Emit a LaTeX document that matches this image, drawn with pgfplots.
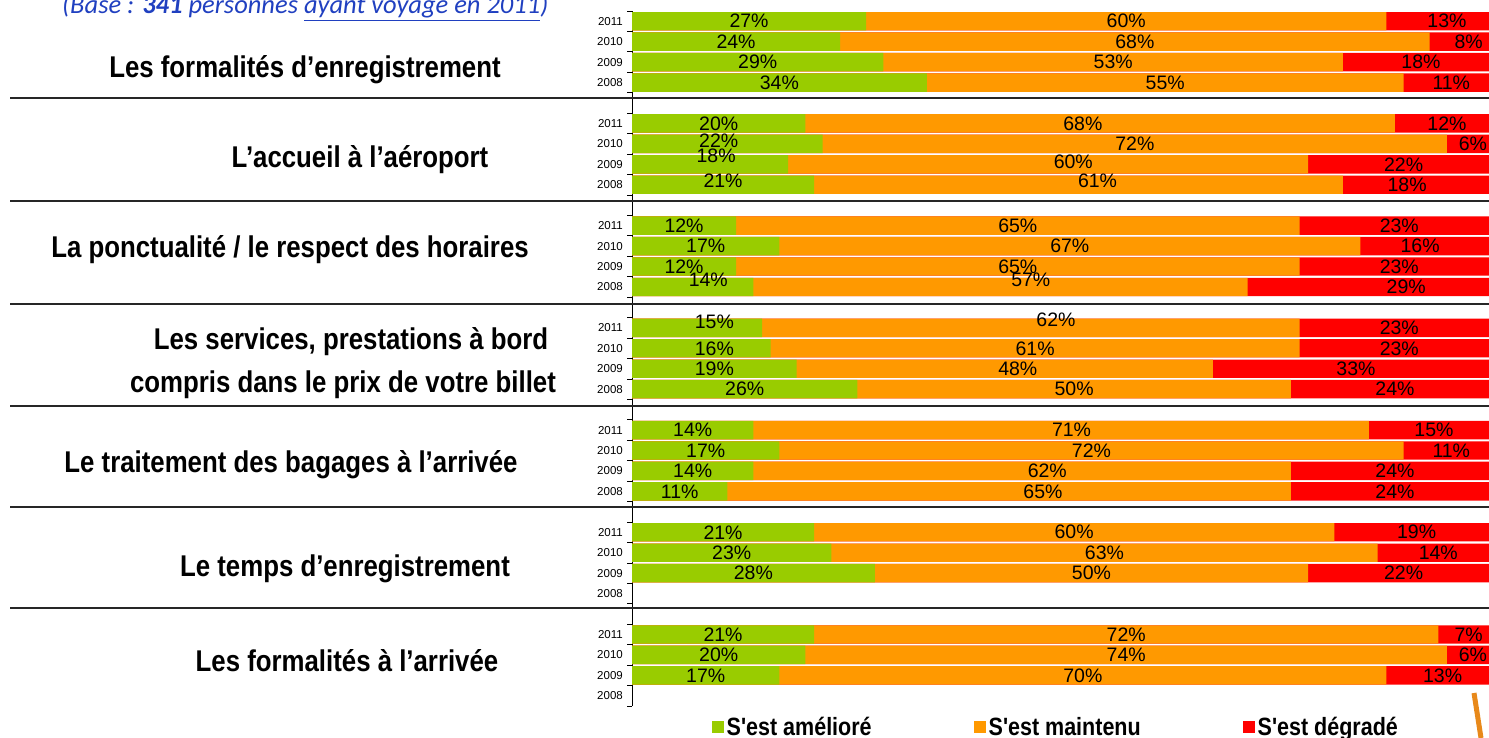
\documentclass[border=0pt]{standalone}
\usepackage{pgfplots}
\pgfplotsset{compat=1.18}
\usepackage{pgfplotstable}
\usepackage{fontspec}
\setmainfont{Liberation Sans}
\newfontfamily\nb{Liberation Sans}[FakeStretch=0.86]
\newfontfamily\calib{Carlito}

\definecolor{cgreen}{HTML}{99CC00}
\definecolor{corange}{HTML}{FF9900}
\definecolor{cred}{HTML}{FF0000}
\definecolor{cblue}{HTML}{2040C0}
\definecolor{cdeco}{HTML}{E8891A}

% y = slot centre (top = 0), g/o/r = shares, dx/dy = label displacement
\pgfplotstableread{
y    g  o  r  gdx  gdy   odx  ody   rdx  rdy
0.5  27 60 13 0    0     0    0     0.5  0
1.5  24 68 8  0    0     0    0     0.5  0
2.5  29 53 18 0    0     0    0     0    0
3.5  34 55 11 0    0     0    0     0    0
5.5  20 68 12 0    0     -2   0     0    0
6.5  22 72 6  -1   -0.15 0    0     0    0
7.5  18 60 22 0.7  -0.4  2.9  -0.1  0    0
8.5  21 61 18 0    -0.2  2.2  -0.2  -1.6 0
10.5 12 65 23 0    0     0    0     0    0
11.5 17 67 16 0    0     0    0     -1.1 0
12.5 12 65 23 0    0     0    0     0    0
13.5 14 57 29 1.8  -0.35 3.5  -0.35 3.8  0
15.5 15 62 23 2    -0.3  2.9  -0.4  0    0
16.5 16 61 23 1.5  0     0    0     0    0
17.5 19 48 33 0    0     1.5  0     0    0
18.5 26 50 24 0    0     0    0     0    0
20.5 14 71 15 0    0     1.2  0     0    0
21.5 17 72 11 0    0     0    0     0    0
22.5 14 62 24 0    0     2.9  0     0    0
23.5 11 65 24 0    0     3.9  0     0    0
25.5 21 60 19 0    0     0    0     0    0
26.5 23 63 14 0    0     0    0     0    0
27.5 28 50 22 0    0     0    0     0    0
30.5 21 72 7  0    0     0    0     0    0
31.5 20 74 6  0    0     0    0     0    0
32.5 17 70 13 0    0     0    0     0    0
}\data

\begin{document}
\begin{tikzpicture}
\useasboundingbox (0pt,0pt) rectangle (1489pt,-738pt);
\clip (0pt,0pt) rectangle (1489pt,-738pt);

\node[anchor=base west, inner sep=0pt, text=cblue, font=\calib\itshape\fontsize{26.5}{26.5}\selectfont]
  at (62pt,-14pt) {(Base : \textbf{341} personnes \underline{ayant voyage en 2011})};

\begin{axis}[
  at={(632pt,-11pt)}, anchor=north west,
  scale only axis, width=857pt, height=695pt,
  xmin=0, xmax=98.85, ymin=0, ymax=34, y dir=reverse,
  axis y line*=left, axis x line=none,
  ytick={0.5,1.5,2.5,3.5,5.5,6.5,7.5,8.5,10.5,11.5,12.5,13.5,15.5,16.5,17.5,18.5,20.5,21.5,22.5,23.5,25.5,26.5,27.5,28.5,30.5,31.5,32.5,33.5},
  yticklabels={2011,2010,2009,2008,2011,2010,2009,2008,2011,2010,2009,2008,2011,2010,2009,2008,2011,2010,2009,2008,2011,2010,2009,2008,2011,2010,2009,2008},
  minor ytick={0,1,...,34},
  major tick length=0pt, minor tick length=5pt, tick align=outside,
  tick style={black, line width=0.8pt},
  axis line style={black, line width=0.8pt},
  yticklabel style={font=\fontsize{11.5}{12}\selectfont, inner sep=0pt, xshift=-9pt},
  /pgf/number format/assume math mode=true,
  legend image code/.code={\fill[#1, draw=none] (0pt,-6pt) rectangle (12pt,6pt);},
  legend style={at={(axis description cs:0.0934,-0.0302)}, anchor=west, draw=none, fill=none,
    inner sep=0pt, font=\nb\bfseries\fontsize{25}{25}\selectfont,
    nodes={inner xsep=2.5pt},
    /tikz/every even column/.append style={column sep=100pt}},
  legend columns=3, legend cell align=left,
]
\addlegendimage{fill=cgreen, draw=none}\addlegendentry{S'est amélioré}
\addlegendimage{fill=corange, draw=none}\addlegendentry{S'est maintenu}
\addlegendimage{fill=cred, draw=none}\addlegendentry{S'est dégradé}

\addplot[xbar, bar width=0.9, fill=cred, draw=none, forget plot]
  table[x expr=\thisrow{g}+\thisrow{o}+\thisrow{r}, y=y]{\data};
\addplot[xbar, bar width=0.9, fill=corange, draw=none, forget plot]
  table[x expr=\thisrow{g}+\thisrow{o}, y=y]{\data};
\addplot[xbar, bar width=0.9, fill=cgreen, draw=none, forget plot]
  table[x=g, y=y]{\data};

\pgfplotsset{lab/.style={draw=none, mark=none, forget plot, point meta=explicit,
  nodes near coords={\pgfmathprintnumber{\pgfplotspointmeta}\%},
  nodes near coords style={anchor=center, inner sep=0pt, font=\fontsize{19.5}{19.5}\selectfont}}}
\addplot[lab] table[x expr=\thisrow{g}/2+\thisrow{gdx}, y expr=\thisrow{y}+\thisrow{gdy}, meta=g]{\data};
\addplot[lab] table[x expr=\thisrow{g}+\thisrow{o}/2+\thisrow{odx}, y expr=\thisrow{y}+\thisrow{ody}, meta=o]{\data};
\addplot[lab] table[x expr=\thisrow{g}+\thisrow{o}+\thisrow{r}/2+\thisrow{rdx}, y expr=\thisrow{y}+\thisrow{rdy}, meta=r]{\data};
\end{axis}

\foreach \yy in {98,201,304,406,507,608}
  \draw[line width=2.2pt, black!85] (10pt,-\yy pt) -- (1489pt,-\yy pt);

\begin{scope}[every node/.style={font=\nb\bfseries\fontsize{30}{32}\selectfont, inner sep=0pt}]
\node at (305pt,-70pt) {Les formalités d’enregistrement};
\node at (360pt,-160pt) {L’accueil à l’aéroport};
\node at (290pt,-250pt) {La ponctualité / le respect des horaires};
\node at (351pt,-342pt) {Les services, prestations à bord};
\node at (343pt,-385pt) {compris dans le prix de votre billet};
\node at (291pt,-465pt) {Le traitement des bagages à l’arrivée};
\node at (345pt,-569pt) {Le temps d’enregistrement};
\node at (347pt,-661pt) {Les formalités à l’arrivée};
\end{scope}

\draw[line width=5pt, cdeco] (1474pt,-693pt) -- (1481pt,-738pt);
\end{tikzpicture}
\end{document}
